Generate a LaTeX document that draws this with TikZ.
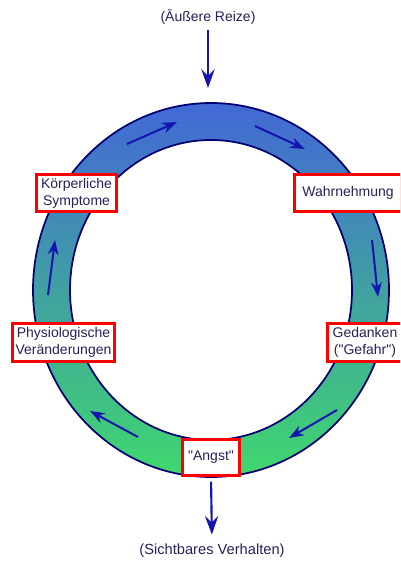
\documentclass[tikz,border=0pt]{standalone}
\usepackage{fontspec}
\setmainfont{Liberation Sans}[Ligatures=TeXOff]
\usetikzlibrary{arrows.meta}
\definecolor{ringtop}{RGB}{66,104,214}
\definecolor{ringmid}{RGB}{62,150,170}
\definecolor{ringbot}{RGB}{64,216,110}
\definecolor{navy}{RGB}{0,0,115}
\definecolor{arrowblue}{RGB}{20,20,175}
\definecolor{textnavy}{RGB}{35,35,90}
\definecolor{boxred}{RGB}{255,0,0}
\begin{document}
\begin{tikzpicture}[x=0.75pt,y=-0.75pt,
  lbl/.style={draw=boxred, line width=2.25pt, fill=white, text=textnavy,
    align=center, inner sep=0pt, font=\fontsize{10.5pt}{12.75pt}\selectfont},
  outer/.style={text=textnavy, inner sep=1pt},
  ringarrow/.style={draw=arrowblue, line width=1.5pt,
    -{Stealth[length=11pt,width=8pt,inset=3.5pt]}},
  mainarrow/.style={draw=arrowblue, line width=1.6pt,
    -{Stealth[length=14pt,width=10pt,inset=5pt]}},
  ringline/.style={draw=navy, line width=1.3pt}]
\useasboundingbox (0,0) rectangle (400,563);
\clip (0,0) rectangle (400,563);
% ring
\shade[even odd rule, top color=ringtop, middle color=ringmid, bottom color=ringbot]
  (211,290) ellipse [x radius=133.5pt, y radius=140.25pt]
  (211,290) ellipse [x radius=105.75pt, y radius=112.5pt];
\draw[ringline] (211,290) ellipse [x radius=133.5pt, y radius=140.25pt];
\draw[ringline] (211,290) ellipse [x radius=105.75pt, y radius=112.5pt];
% ring arrows
\coordinate (a1s) at (127,144); \coordinate (a1e) at (177,122);
\coordinate (a2s) at (255,126); \coordinate (a2e) at (305,149);
\coordinate (a3s) at (372,240); \coordinate (a3e) at (378,297);
\coordinate (a4s) at (337,410); \coordinate (a4e) at (289,438);
\coordinate (a5s) at (138,437); \coordinate (a5e) at (90,411);
\coordinate (a6s) at (48,295);  \coordinate (a6e) at (55,240);
\draw[ringarrow] (a1s) -- (a1e);
\draw[ringarrow] (a2s) -- (a2e);
\draw[ringarrow] (a3s) -- (a3e);
\draw[ringarrow] (a4s) -- (a4e);
\draw[ringarrow] (a5s) -- (a5e);
\draw[ringarrow] (a6s) -- (a6e);
% boxes
\node[lbl, minimum width=60pt, minimum height=27.75pt] (ks) at (76.5,193) {Körperliche\\Symptome};
\node[lbl, minimum width=80.25pt, minimum height=27.75pt] (wahr) at (348,193) {Wahrnehmung};
\node[lbl, minimum width=76.5pt, minimum height=28.5pt] (phys) at (63.5,342.5) {Physiologische\\Veränderungen};
\node[lbl, minimum width=56.25pt, minimum height=28.5pt] (ged) at (365,342.5) {Gedanken\\("Gefahr")};
\node[lbl, minimum width=42.75pt, minimum height=27pt] (angst) at (211,457.5) {"Angst"};
% outer labels
\node[outer, font=\fontsize{10.5pt}{12pt}\selectfont] (top) at (208,17) {(Āußere Reize)};
\node[outer, font=\fontsize{11pt}{13pt}\selectfont] (bot) at (212,551) {(Sichtbares Verhalten)};
\coordinate (topend) at (208,88);
\draw[mainarrow] (top.south) ++(0,4) -- (topend);
\draw[mainarrow, shorten <=3.5pt, shorten >=6pt] (angst.south) -- (bot.north);
\end{tikzpicture}
\end{document}
